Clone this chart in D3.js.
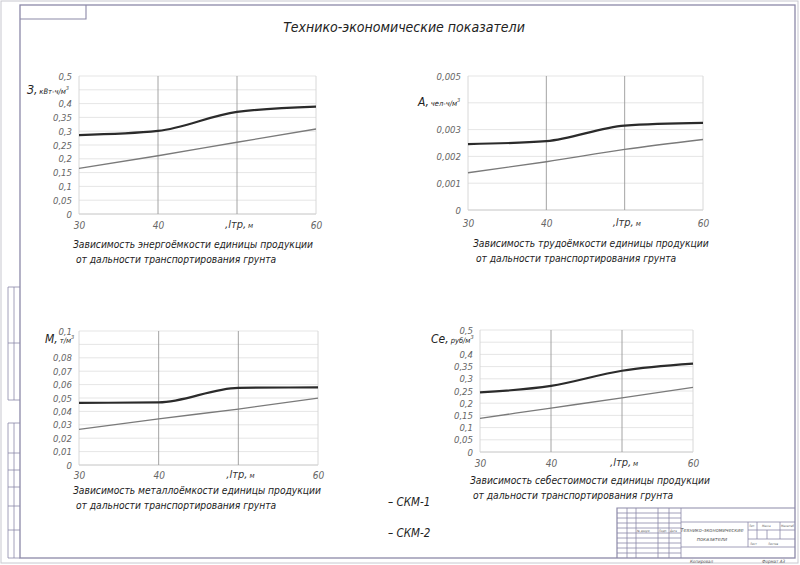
<!DOCTYPE html>
<html>
<head>
<meta charset="utf-8">
<script src="https://cdn.jsdelivr.net/npm/d3@7"></script>
<style>
  body { margin: 0; background: #fff; }
  svg text { font-family: "Liberation Sans Narrow", "DejaVu Sans Condensed", sans-serif; font-style: italic; }
</style>
</head>
<body>
<div id="sheet"></div>
<script>
// ---- data ----
var distances = [30, 40, 50, 60];          // lтр, м
var xTickLabels = ["30", "40", "", "60"];

// energy intensity, кВт-ч/м3
var energySkm1 = [0.286, 0.301, 0.370, 0.389];
var energySkm2 = [0.165, 0.211, 0.260, 0.308];
var energyTicks = [0, 0.05, 0.1, 0.15, 0.2, 0.25, 0.3, 0.35, 0.4, 0.45, 0.5];

// labour intensity, чел-ч/м3
var labourSkm1 = [0.00246, 0.00257, 0.00315, 0.00325];
var labourSkm2 = [0.00139, 0.00180, 0.00226, 0.00263];
var labourTicks = [0, 0.001, 0.002, 0.003, 0.004, 0.005];

// metal intensity, т/м3
var metalSkm1 = [0.0464, 0.0467, 0.0576, 0.0579];
var metalSkm2 = [0.0266, 0.0345, 0.0417, 0.0499];
var metalTicks = [0, 0.01, 0.02, 0.03, 0.04, 0.05, 0.06, 0.07, 0.08, 0.09, 0.1];

// unit cost, руб/м3
var costSkm1 = [0.244, 0.271, 0.333, 0.362];
var costSkm2 = [0.138, 0.180, 0.222, 0.265];
var costTicks = [0, 0.05, 0.1, 0.15, 0.2, 0.25, 0.3, 0.35, 0.4, 0.45, 0.5];

var seriesNames = ["СКМ-1", "СКМ-2"];

var W = 800, H = 565;
var frameColor = "#8c89a8";

var svg = d3.select("#sheet").append("svg")
    .attr("width", W)
    .attr("height", H);

svg.append("rect").attr("width", W).attr("height", H).attr("fill", "#fff");

// sheet edge
svg.append("rect")
    .attr("x", 1).attr("y", 1).attr("width", W - 3).attr("height", H - 3)
    .attr("fill", "none").attr("stroke", "#c8c8d0").attr("stroke-width", 1);

// ---- drawing frame ----
svg.append("rect")
    .attr("x", 20).attr("y", 5).attr("width", 775).attr("height", 553)
    .attr("fill", "none").attr("stroke", frameColor).attr("stroke-width", 1.3);

// top-left box
svg.append("path")
    .attr("d", "M20,19H86V5")
    .attr("fill", "none").attr("stroke", frameColor).attr("stroke-width", 1.1);

// left margin stamp
var stamp = svg.append("g").attr("stroke", frameColor).attr("fill", "none").attr("stroke-width", 0.8);
stamp.append("path").attr("d", "M20,287H8V400H20M14,287V400M8,343H20");
stamp.append("path").attr("d", "M20,423H8V558H20M14,423V558M8,453H20M8,470H20M8,487H20M8,506H20M8,530H20");

// ---- title ----
svg.append("text")
    .attr("x", 404).attr("y", 32)
    .attr("text-anchor", "middle")
    .attr("font-size", 14)
    .attr("fill", "#222")
    .text("Технико-экономические показатели");

// ---- charts ----
var charts = [
  { left: 79, right: 316, top: 76, bottom: 214, ticks: energyTicks, s1: energySkm1, s2: energySkm2,
    fmt: d3.format(".2~f"), skipTick: 9, tickDy: 15,
    yTitle: "З,", yUnit: "кВт-ч/м", yTitleX: 27, yTitleY: 94,
    captionX: 73, captionY: 248,
    caption: ["Зависимость энергоёмкости единицы продукции", " от дальности транспортирования грунта"] },
  { left: 468, right: 703, top: 76, bottom: 210, ticks: labourTicks, s1: labourSkm1, s2: labourSkm2,
    fmt: d3.format(".3~f"), skipTick: 4, tickDy: 17,
    yTitle: "А,", yUnit: "чел-ч/м", yTitleX: 418, yTitleY: 106,
    captionX: 473, captionY: 247,
    caption: ["Зависимость трудоёмкости единицы продукции", " от дальности транспортирования грунта"] },
  { left: 79, right: 318, top: 331, bottom: 465, ticks: metalTicks, s1: metalSkm1, s2: metalSkm2,
    fmt: d3.format(".2~f"), skipTick: 9, tickDy: 14,
    yTitle: "М,", yUnit: "т/м", yTitleX: 45, yTitleY: 343,
    captionX: 73, captionY: 494,
    caption: ["Зависимость металлоёмкости единицы продукции", " от дальности транспортирования грунта"] },
  { left: 480, right: 693, top: 330, bottom: 452, ticks: costTicks, s1: costSkm1, s2: costSkm2,
    fmt: d3.format(".2~f"), skipTick: 9, tickDy: 15,
    yTitle: "Се,", yUnit: "руб/м", yTitleX: 431, yTitleY: 343,
    captionX: 470, captionY: 484,
    caption: ["Зависимость себестоимости единицы продукции", " от дальности транспортирования грунта"] }
];

charts.forEach(drawChart);

function drawChart(c) {
  var g = svg.append("g");

  var x = d3.scaleLinear().domain([30, 60]).range([c.left, c.right]);
  var y = d3.scaleLinear().domain([0, c.ticks[c.ticks.length - 1]]).range([c.bottom, c.top]);

  // horizontal grid
  g.append("g")
    .selectAll("line")
    .data(c.ticks)
    .enter().append("line")
      .attr("x1", c.left).attr("x2", c.right)
      .attr("y1", function(d) { return y(d); })
      .attr("y2", function(d) { return y(d); })
      .attr("stroke", function(d) { return d === 0 ? "#b5b5b5" : "#dedede"; })
      .attr("stroke-width", 0.8);

  // vertical grid
  g.append("g")
    .selectAll("line")
    .data(distances)
    .enter().append("line")
      .attr("x1", function(d) { return x(d); })
      .attr("x2", function(d) { return x(d); })
      .attr("y1", c.top).attr("y2", c.bottom)
      .attr("stroke", function(d) { return (d === 40 || d === 50) ? "#9a9a9a" : "#d4d4d4"; })
      .attr("stroke-width", 0.9);

  // y tick labels
  var yAxis = d3.axisLeft(y)
      .tickValues(c.ticks)
      .tickSize(0)
      .tickPadding(7)
      .tickFormat(function(d, i) {
        return i === c.skipTick ? "" : c.fmt(d).replace(".", ",");
      });
  var ya = g.append("g")
      .attr("transform", "translate(" + c.left + ",0)")
      .call(yAxis);
  ya.select(".domain").remove();
  ya.selectAll("text")
      .attr("font-family", null)
      .attr("font-size", 9.5)
      .attr("fill", "#666");

  // x tick labels
  var xAxis = d3.axisBottom(x)
      .tickValues(distances)
      .tickSize(0)
      .tickPadding(c.tickDy - 7)
      .tickFormat(function(d, i) { return xTickLabels[i]; });
  var xa = g.append("g")
      .attr("transform", "translate(0," + c.bottom + ")")
      .call(xAxis);
  xa.select(".domain").remove();
  xa.selectAll("text")
      .attr("font-family", null)
      .attr("font-size", 10)
      .attr("fill", "#666");

  // x axis name
  g.append("text")
      .attr("x", x(50) - 12)
      .attr("y", c.bottom + c.tickDy - 1)
      .attr("font-size", 11)
      .attr("fill", "#333")
      .text(",lтр,")
    .append("tspan")
      .attr("font-size", 7.5)
      .attr("dx", 2)
      .text("м");

  // y axis name
  var yt = g.append("text")
      .attr("x", c.yTitleX)
      .attr("y", c.yTitleY)
      .attr("font-size", 12)
      .attr("fill", "#222")
      .text(c.yTitle);
  yt.append("tspan").attr("font-size", 7.5).attr("dx", 2).text(c.yUnit);
  yt.append("tspan").attr("font-size", 5.5).attr("dy", -4).text("3");

  // series
  var line = d3.line()
      .x(function(d, i) { return x(distances[i]); })
      .y(function(d) { return y(d); })
      .curve(d3.curveMonotoneX);

  g.append("path")
      .datum(c.s2)
      .attr("d", line)
      .attr("fill", "none")
      .attr("stroke", "#7a7a7a")
      .attr("stroke-width", 1.3);

  g.append("path")
      .datum(c.s1)
      .attr("d", line)
      .attr("fill", "none")
      .attr("stroke", "#2b2b2b")
      .attr("stroke-width", 2.2);

  // caption
  g.selectAll(".caption")
    .data(c.caption)
    .enter().append("text")
      .attr("class", "caption")
      .attr("x", c.captionX)
      .attr("y", function(d, i) { return c.captionY + i * 15; })
      .attr("font-size", 10.2)
      .attr("fill", "#222")
      .attr("xml:space", "preserve")
      .style("white-space", "pre")
      .text(function(d) { return d; });
}

// ---- legend ----
svg.selectAll(".legend")
  .data(seriesNames)
  .enter().append("text")
    .attr("class", "legend")
    .attr("x", 388)
    .attr("y", function(d, i) { return 506 + i * 31; })
    .attr("font-size", 11.5)
    .attr("fill", "#222")
    .text(function(d) { return "– " + d; });

// ---- title block ----
var tb = svg.append("g").attr("stroke", frameColor).attr("fill", "none").attr("stroke-width", 0.8);
tb.append("path").attr("d", "M617,558V508H795").attr("stroke-width", 1.2);
tb.append("path").attr("d", "M681,508V558M627,508V558M636,508V558M658,508V558M669,508V558");
tb.append("path").attr("d", "M617,513H681M617,518H681M617,523H681M617,528H681M617,533H681M617,538H681M617,543H681M617,548H681M617,553H681");
tb.append("path").attr("d", "M681,522H795M681,547H795M748,522V547M748,530H795M748,539H795M757,522V539M767,530V539M780,522V539");

var tbText = svg.append("g").attr("fill", "#555");
tbText.append("text").attr("x", 712).attr("y", 532).attr("text-anchor", "middle")
    .attr("font-size", 5.5).text("Технико-экономические");
tbText.append("text").attr("x", 712).attr("y", 541).attr("text-anchor", "middle")
    .attr("font-size", 5.5).text("показатели");
tbText.append("text").attr("x", 637).attr("y", 532).attr("font-size", 3).text("№ докум.");
tbText.append("text").attr("x", 659).attr("y", 532).attr("font-size", 3).text("Подп.");
tbText.append("text").attr("x", 670).attr("y", 532).attr("font-size", 3).text("Дата");
tbText.append("text").attr("x", 749).attr("y", 527).attr("font-size", 3).text("Лит.");
tbText.append("text").attr("x", 762).attr("y", 527).attr("font-size", 3).text("Масса");
tbText.append("text").attr("x", 781).attr("y", 527).attr("font-size", 3).text("Масштаб");
tbText.append("text").attr("x", 750).attr("y", 545).attr("font-size", 3).text("Лист");
tbText.append("text").attr("x", 768).attr("y", 545).attr("font-size", 3).text("Листов");
tbText.append("text").attr("x", 690).attr("y", 563).attr("font-size", 4.5).text("Копировал");
tbText.append("text").attr("x", 762).attr("y", 563).attr("font-size", 4.5).text("Формат  А3");
</script>
</body>
</html>
